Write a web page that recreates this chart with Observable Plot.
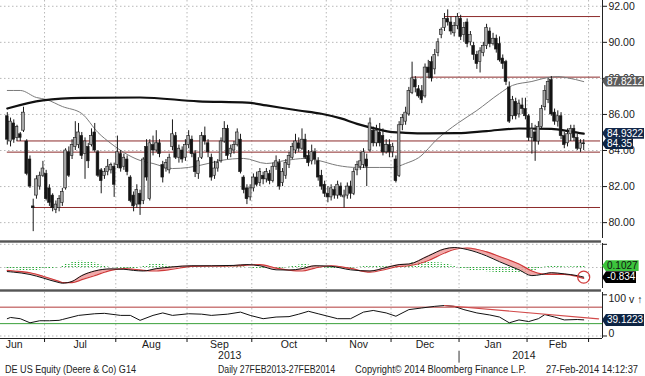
<!DOCTYPE html>
<html><head><meta charset="utf-8">
<script src="https://cdn.jsdelivr.net/npm/d3@7"></script>
<script src="https://cdn.jsdelivr.net/npm/@observablehq/plot@0.6"></script>
<style>
body{margin:0;background:#fff;font-family:"Liberation Sans",Arial,sans-serif;}
#wrap{position:relative;width:645px;height:376px;overflow:hidden;background:#fff}
.bar{position:absolute;left:0;width:601px;height:3px;background:linear-gradient(#a0a0a0,#555,#a0a0a0)}
.tag{position:absolute;left:602px;height:11px;line-height:11px;font-size:10px;padding-left:5px;padding-right:1px;white-space:nowrap;clip-path:polygon(0 50%,4px 0,100% 0,100% 100%,4px 100%)}
.foot{position:absolute;top:364px;font-size:10px;color:#222;white-space:nowrap;transform-origin:0 0}
</style></head>
<body><div id="wrap"></div>
<script>
// ---- calendar (trading-day index) ----
const months = ["Jun","Jul","Aug","Sep","Oct","Nov","Dec","Jan","Feb"];
const monthStart = [0,12,34,56,76,99,119,140,161,180];
const years = ["2013","2014"];
const yearStart = [0,140,180];

// ---- daily candles [open, high, low, close] ----
const jun = [[85.9,86.1,84.3,84.6],[84.5,85.8,84.2,85.6],[85.5,85.7,84.4,84.6],[84.7,85.4,84.5,85.3],[84.9,85.0,84.5,84.7],[85.1,86.4,85.0,86.1],[84.5,84.6,82.6,82.7],[83.5,83.7,81.9,82.0],[80.9,81.3,79.5,80.8],[81.5,82.6,81.3,82.4],[82.0,82.8,81.8,82.6],[82.6,83.4,82.5,83.0]];
const jul = [[82.7,82.9,81.2,81.3],[81.9,82.1,80.9,81.1],[81.5,81.6,80.6,80.8],[80.7,81.2,80.5,81.0],[80.8,81.5,80.6,81.3],[81.1,81.9,80.9,81.7],[81.9,84.1,81.8,84.0],[83.9,84.2,82.5,82.6],[83.7,84.6,83.5,84.3],[84.2,85.6,84.0,84.7],[84.3,85.5,84.1,85.0],[84.8,85.0,83.5,83.7],[83.8,84.7,82.4,84.5],[84.2,84.4,83.0,83.4],[84.3,85.2,84.2,84.8],[85.0,85.5,83.9,84.0],[83.9,84.0,82.5,82.6],[82.9,83.0,81.6,82.3],[82.6,83.0,82.4,82.8],[82.8,83.5,82.6,83.1],[82.9,83.3,82.7,83.2],[83.1,83.3,81.4,82.1]];
const aug = [[83.2,84.8,83.0,83.9],[83.8,84.0,82.8,83.0],[83.1,83.8,82.9,83.6],[83.5,83.7,82.6,82.8],[82.5,82.6,81.1,81.2],[81.5,81.7,80.6,80.9],[81.0,82.1,80.8,81.8],[81.6,81.8,80.4,81.0],[81.2,83.6,81.0,83.5],[84.2,84.6,82.3,82.5],[81.3,84.6,81.2,84.4],[84.3,84.8,83.7,84.0],[84.0,85.1,83.9,84.4],[84.4,84.6,83.6,83.8],[83.2,83.4,82.2,82.5],[83.0,83.5,82.8,83.3],[82.9,83.8,82.7,83.6],[84.2,85.7,84.0,84.9],[84.8,85.0,83.5,83.6],[83.6,84.3,83.3,84.1],[84.0,84.2,83.3,83.5],[83.6,84.6,83.4,84.3]];
const sep = [[84.3,85.1,84.1,84.8],[84.6,84.8,83.6,83.8],[83.8,84.0,82.5,82.8],[82.7,83.6,82.4,83.4],[83.6,85.0,83.5,84.8],[84.8,85.3,84.3,84.5],[84.4,84.6,83.6,83.9],[83.6,83.8,82.3,82.5],[82.6,83.4,82.4,83.0],[83.0,83.5,82.8,83.3],[83.4,84.7,83.3,84.5],[84.5,85.6,84.4,85.2],[85.2,85.4,83.5,83.7],[83.8,84.3,83.6,84.1],[84.0,84.5,83.8,84.3],[84.3,85.2,84.2,85.0],[84.6,84.9,82.7,82.8],[82.5,82.6,81.6,81.8],[81.9,82.1,81.0,81.3],[81.4,82.1,81.2,81.9]];
const oct = [[81.9,82.7,81.7,82.5],[82.5,82.8,82.0,82.1],[82.2,83.0,82.0,82.8],[82.6,82.8,82.1,82.4],[82.4,83.0,82.2,82.8],[82.7,82.9,82.1,82.3],[82.3,83.3,82.2,83.1],[83.1,83.7,82.9,83.4],[83.3,83.5,81.8,82.0],[82.2,83.0,82.0,82.8],[82.6,83.5,82.4,83.3],[83.2,83.9,83.0,83.7],[83.6,84.4,83.5,84.2],[84.0,84.9,83.8,84.5],[84.4,84.7,83.9,84.1],[84.1,85.2,84.0,84.6],[84.6,84.9,83.5,83.6],[83.7,84.0,83.1,83.3],[83.4,84.3,83.2,83.9],[83.9,84.1,83.2,83.5],[83.4,83.6,82.3,82.5],[82.6,82.9,81.8,82.0],[82.1,82.3,81.4,81.6]];
const nov = [[81.6,82.0,81.1,81.4],[81.4,82.1,81.2,81.9],[81.8,82.0,81.3,81.5],[81.5,82.3,81.3,82.1],[82.0,82.2,81.4,81.5],[81.4,81.8,80.8,81.5],[81.5,82.2,81.3,82.0],[82.0,82.3,81.3,81.6],[81.6,83.0,81.5,82.8],[82.9,83.4,82.6,83.2],[83.1,83.9,82.9,83.4],[83.2,84.1,83.0,83.9],[83.5,83.8,82.0,83.1],[84.0,85.8,83.9,85.5],[85.1,85.3,84.2,84.4],[84.4,85.4,84.2,85.1],[85.0,85.5,84.2,84.4],[84.8,85.2,83.7,83.9],[83.9,84.6,83.8,84.3],[84.3,84.6,83.6,83.9]];
const dec = [[83.9,84.4,83.6,84.2],[83.5,83.7,82.2,82.3],[82.6,85.6,82.5,85.4],[85.4,86.0,85.1,85.8],[85.6,86.4,85.4,86.1],[86.0,87.5,85.9,87.3],[87.2,88.9,87.1,88.0],[87.9,88.1,87.2,87.5],[87.4,87.6,86.9,87.0],[87.3,87.6,86.6,86.8],[87.0,88.8,86.9,88.6],[88.6,89.0,88.0,88.3],[88.9,89.2,87.8,88.0],[88.5,89.6,88.2,89.3],[89.4,90.2,89.2,90.0],[90.4,90.8,90.2,90.7],[90.8,91.6,90.6,91.3],[91.3,91.8,90.9,91.1],[91.1,91.4,90.4,90.6],[90.5,91.1,90.3,90.9],[90.9,91.6,90.7,91.4]];
const jan = [[91.3,91.5,90.1,90.3],[90.4,91.1,90.0,90.8],[91.1,91.3,89.7,89.9],[90.0,90.6,89.8,90.4],[89.8,90.0,89.0,89.3],[89.3,89.5,88.5,88.8],[88.9,89.7,88.3,89.5],[89.4,90.0,89.2,89.8],[89.8,91.0,89.6,90.8],[90.6,90.8,89.7,89.9],[89.9,90.5,89.8,90.2],[90.2,90.4,89.4,89.6],[89.9,90.3,88.9,89.0],[89.1,89.3,88.5,88.8],[88.9,89.0,87.6,87.8],[87.5,87.8,85.5,85.6],[85.9,87.0,85.7,86.8],[86.7,86.9,85.7,85.9],[86.0,86.8,85.8,86.6],[86.5,86.9,86.0,86.3],[86.3,86.9,85.7,85.9]];
const feb = [[85.9,86.0,84.5,84.7],[84.7,85.5,83.8,85.2],[85.0,85.4,83.4,84.5],[84.5,85.6,84.3,85.3],[85.3,86.5,85.2,86.3],[86.4,87.6,86.2,87.3],[86.8,88.0,86.6,87.8],[87.9,88.1,85.9,86.0],[86.1,86.3,85.4,85.6],[85.6,86.2,85.3,85.9],[85.9,86.1,84.6,84.8],[84.8,85.0,84.1,84.3],[84.4,85.2,84.2,84.9],[84.9,85.4,84.5,85.2],[85.2,85.4,84.5,84.7],[84.7,84.9,84.0,84.1],[84.1,84.6,83.9,84.4],[84.4,84.6,84.0,84.35]];

// ---- moving averages [trading-day index, value] ----
const ma50 = [[0,87.33],[4,87.33],[9,86.94],[12,86.83],[17,86.44],[23,86.05],[28,85.0],[32,84.39],[36,83.89],[41,83.45],[45,83.28],[51,83.0],[56,83.06],[62,83.28],[66,83.45],[73,83.56],[80,83.28],[86,83.45],[92,83.56],[96,83.45],[102,83.17],[108,83.06],[115,83.06],[119,83.06],[123,83.28],[127,83.6],[133,84.67],[139,85.5],[145,86.22],[152,87.16],[156,87.61],[162,87.83],[167,88.05],[170,88.1],[173,88.03],[178,87.8212]];
const ma200 = [[0,86.33],[11,86.78],[23,86.92],[41,86.94],[59,86.73],[74,86.66],[80,86.5],[90,86.22],[97,86.04],[103,85.78],[108,85.48],[114,85.2],[119,85.02],[123,84.98],[130,84.95],[139,84.96],[148,85.08],[158,85.22],[168,85.2],[174,85.05],[178,84.9322]];

// ---- horizontal levels (price, first candle index) ----
const levels = [91.43, 88.07, 84.53, 83.91, 80.84];
const levelFrom = [135, 125, 3, 0, 8];
const priceTicks = [80,82,84,86,88,90,92];

// ---- MACD ----
const macdIdx = [0,2,7,11,16,17,20,23,27,32,36,39,42,46,51,57,63,70,74,78,83,87,91,95,100,106,112,117,121,124,130,135,138,142,148,152,158,162,165,168,172,176,178];
const macd = [-0.35,-0.4,-0.6,-0.9,-1.3,-1.35,-1.2,-0.7,-0.3,-0.12,-0.15,-0.25,-0.3,-0.1,0.05,0.15,0.15,0.18,0.25,0.15,-0.2,-0.22,-0.1,0.15,0.1,-0.2,-0.3,0.0,0.25,0.3,1.0,1.6,1.72,1.55,1.0,0.5,-0.2,-0.7,-0.6,-0.45,-0.55,-0.7,-0.834];
const signal = [-0.25,-0.3,-0.45,-0.75,-1.2,-1.3,-1.3,-1.05,-0.7,-0.25,-0.1,-0.15,-0.25,-0.3,-0.15,0.1,0.12,0.13,0.2,0.25,-0.05,-0.22,-0.3,-0.05,0.15,-0.08,-0.4,-0.15,0.1,0.15,0.6,1.25,1.55,1.68,1.35,0.95,0.3,-0.3,-0.55,-0.6,-0.6,-0.78,-0.937];
const histJun = [-0.15,-0.18,-0.2,-0.22,-0.25,-0.25,-0.28,-0.3,-0.3,-0.28,-0.22,-0.15];
const histJul = [-0.12,-0.1,-0.08,-0.05,0.0,0.1,0.25,0.35,0.45,0.5,0.55,0.55,0.5,0.5,0.45,0.38,0.3,0.2,0.12,0.05,0.0,-0.03];
const histAug = [-0.05,-0.06,-0.08,-0.1,-0.12,-0.1,-0.06,0.02,0.1,0.18,0.25,0.3,0.32,0.3,0.25,0.2,0.15,0.1,0.06,0.03,0.02,0.0];
const histSep = [0.02,0.03,0.02,0.0,0.03,0.05,0.04,0.02,0.0,0.02,0.04,0.06,0.05,0.04,0.05,0.07,0.06,0.04,0.0,-0.04];
const histOct = [-0.08,-0.1,-0.12,-0.14,-0.15,-0.15,-0.13,-0.12,-0.1,-0.06,-0.02,0.04,0.1,0.16,0.22,0.25,0.25,0.22,0.18,0.12,0.06,0.0,-0.05];
const histNov = [-0.1,-0.13,-0.15,-0.16,-0.16,-0.15,-0.12,-0.08,-0.04,0.0,0.04,0.08,0.1,0.12,0.14,0.16,0.16,0.15,0.14,0.13];
const histDec = [0.12,0.12,0.16,0.22,0.28,0.34,0.4,0.44,0.46,0.47,0.46,0.45,0.44,0.42,0.4,0.38,0.34,0.28,0.2,0.1,0.0];
const histJan = [-0.08,-0.15,-0.2,-0.25,-0.28,-0.3,-0.32,-0.34,-0.36,-0.38,-0.4,-0.42,-0.44,-0.46,-0.48,-0.5,-0.5,-0.5,-0.48,-0.45,-0.42];
const histFeb = [-0.38,-0.32,-0.25,-0.1,-0.05,0.05,0.12,0.15,0.15,0.12,0.08,0.05,0.05,0.06,0.07,0.08,0.09,0.1];

// ---- RSI ----
const rsiIdx = [0,1,4,7,10,13,16,17,22,27,30,35,38,41,45,48,51,56,60,63,68,72,75,79,83,87,90,93,96,102,106,110,113,117,120,124,128,132,135,138,141,145,149,152,155,158,161,164,166,169,172,176,178];
const rsiVal = [42,45,42,32,37,37,38,40,50,54,55,50,50,38,50,56,50,54,53,50,53,58,50,42,46,47,53,60,54,42,42,58,62,56,48,64,68,72,74,72,64,56,51,46,32,39,35,42,52,46,39,40,39.1223];
const rsiTrend = [[135,74],[182.6,41.7]];
const rsiTicks = [0,100];

// ---- text ----
const footer = [
  ["DE US Equity (Deere & Co) G14", 5, 131],
  ["Daily 27FEB2013-27FEB2014", 218, 117],
  ["Copyright\u00A9 2014 Bloomberg Finance L.P.", 355, 171],
  ["27-Feb-2014 14:12:37", 546, 92]
];

// ---- tables ----
const candles = [jun,jul,aug,sep,oct,nov,dec,jan,feb].flat().map(([o,h,l,c],i)=>({i,o,h,l,c}));
const hist = [histJun,histJul,histAug,histSep,histOct,histNov,histDec,histJan,histFeb].flat().map((v,i)=>({i,v}));
const macdRows = macdIdx.map((i,k)=>({i, m: macd[k], s: signal[k]}));
const rsiRows = rsiIdx.map((i,k)=>({i, v: rsiVal[k]}));
const bounds = monthStart.slice(1).map(s => s - 0.5);
const monthRows = months.map((name,k)=>({name, x: k===0 ? -0.5 : (monthStart[k] + monthStart[k+1]) / 2 - 0.5}));
const xDomain = [-2.1, 183.8];
const yearRows = years.map((name,k)=>({name, x: ((k===0 ? xDomain[0] : yearStart[k]-0.5) + yearStart[k+1]-0.5)/2}));
const levelRows = levels.map((v,k)=>({v, from: levelFrom[k]}));
const toRows = a => a.map(([i,v])=>({i,v}));

const dotted = {stroke:"#b8b8b8", strokeDasharray:"1.5,2.5"};
const common = {
  width: 645, marginLeft: 0, marginRight: 43, marginTop: 0,
  x: {domain: xDomain, axis: null},
  style: {fontFamily: '"Liberation Sans", Arial, sans-serif', fontSize: "10.5px", color: "#1a1a1a", background: "transparent", overflow: "visible"}
};

const wrap = document.getElementById("wrap");
function put(el, top){ el.style.position = "absolute"; el.style.left = "0px"; el.style.top = top + "px"; wrap.appendChild(el); }

// main price panel
const main = Plot.plot({...common, height: 238, marginBottom: 0,
  y: {domain: [79.12, 92.32], axis: null},
  marks: [
    Plot.ruleY(priceTicks, dotted),
    Plot.ruleX(bounds, dotted),
    Plot.ruleY(levelRows, {y: "v", x1: "from", x2: 183.2, stroke: "#8c2b2b", strokeWidth: 1}),
    Plot.line(toRows(ma50), {x: "i", y: "v", stroke: "#7a7a7a", strokeWidth: 1, curve: "monotone-x"}),
    Plot.line(toRows(ma200), {x: "i", y: "v", stroke: "#111", strokeWidth: 2.2, curve: "monotone-x"}),
    Plot.ruleX(candles, {x: "i", y1: "l", y2: "h", stroke: "#1a1a1a", strokeWidth: 1}),
    Plot.rect(candles, {x1: d => d.i - 0.42, x2: d => d.i + 0.42, y1: "o", y2: "c",
      fill: d => d.c >= d.o ? "#a8a8a8" : "#141414", stroke: "#1a1a1a", strokeWidth: 0.6}),
    Plot.ruleX([xDomain[1]], {stroke: "#222"}),
    Plot.axisY(priceTicks, {anchor: "right", tickSize: 4, tickPadding: 2, tickFormat: d => d.toFixed(2)})
  ]
});
put(main, 0);

// MACD panel
const macdPlot = Plot.plot({...common, height: 45, marginBottom: 0,
  y: {domain: [-1.81, 2.07], axis: null},
  marks: [
    Plot.ruleY([2, 0], dotted),
    Plot.ruleX(bounds, dotted),
    Plot.ruleX(hist, {x: "i", y1: 0, y2: "v", stroke: "#22a832", strokeWidth: 1.3, strokeDasharray: "1,1"}),
    Plot.areaY(macdRows, {x: "i", y1: "m", y2: "s", fill: "#ee9a9a", fillOpacity: 0.85, curve: "monotone-x"}),
    Plot.line(macdRows, {x: "i", y: "s", stroke: "#cf3a3a", strokeWidth: 1.2, curve: "monotone-x"}),
    Plot.line(macdRows, {x: "i", y: "m", stroke: "#111", strokeWidth: 1, curve: "monotone-x"}),
    Plot.dot(macdRows.slice(-1), {x: "i", y: "m", r: 6, stroke: "#cf3a3a", strokeWidth: 1.2, fill: "none"}),
    Plot.ruleX([xDomain[1]], {stroke: "#222"}),
    Plot.axisY([2], {anchor: "right", tickSize: 4, tickFormat: () => ""})
  ]
});
put(macdPlot, 243);

// RSI panel + time axis
const rsiPlot = Plot.plot({...common, height: 72, marginBottom: 26,
  y: {domain: [-6.1, 105.6], axis: null},
  marks: [
    Plot.ruleX(bounds, dotted),
    Plot.ruleY([0], dotted),
    Plot.ruleY([70], {stroke: "#b23a3a"}),
    Plot.ruleY([30], {stroke: "#3a9f3a"}),
    Plot.line(rsiRows, {x: "i", y: "v", stroke: "#111", strokeWidth: 1}),
    Plot.line(toRows(rsiTrend), {x: "i", y: "v", stroke: "#d24a4a", strokeWidth: 1.2}),
    Plot.ruleY([-6.1], {stroke: "#222"}),
    Plot.ruleX([xDomain[1]], {stroke: "#222"}),
    Plot.axisY(rsiTicks, {anchor: "right", tickSize: 4, tickFormat: () => ""}),
    Plot.text(rsiTicks.slice(1), {x: xDomain[1], y: d => d, text: d => String(d), dx: 6, dy: 4, textAnchor: "start"}),
    Plot.text(rsiTicks.slice(0, 1), {x: xDomain[1], y: d => d, text: d => String(d), dx: 6, dy: -2, textAnchor: "start"}),
    Plot.axisX(bounds, {anchor: "bottom", tickSize: 4, tickFormat: () => ""}),
    Plot.text(monthRows.slice(0, 1), {x: "x", text: "name", frameAnchor: "bottom", dy: 9, textAnchor: "start"}),
    Plot.text(monthRows.slice(1), {x: "x", text: "name", frameAnchor: "bottom", dy: 9}),
    Plot.ruleX([yearStart[1] - 0.5], {y1: -37, y2: -66, stroke: "#333"}),
    Plot.text(yearRows, {x: "x", text: "name", frameAnchor: "bottom", dy: 20})
  ]
});
put(rsiPlot, 292);

// separator bars
[239.5, 288.5].forEach(t => { const b = document.createElement("div"); b.className = "bar"; b.style.top = t + "px"; wrap.appendChild(b); });

// value tags positioned with each panel's y scale
function yOf(plot, v){
  const s = plot.scale("y");
  if (s && typeof s.apply === "function") return s.apply(v);
  return d3.scaleLinear(s.domain, s.range)(v);
}
function tag(text, yc, bg, fg, extra){
  const t = document.createElement("div");
  t.className = "tag"; t.textContent = text;
  t.style.top = (yc - 5.5) + "px"; t.style.background = bg; t.style.color = fg;
  if (extra) Object.assign(t.style, extra);
  wrap.appendChild(t);
}
tag(ma50[ma50.length-1][1].toFixed(4), yOf(main, ma50[ma50.length-1][1]), "#5c5c5c", "#fff");
tag(ma200[ma200.length-1][1].toFixed(4), yOf(main, ma200[ma200.length-1][1]), "#13284a", "#fff");
tag(String(candles[candles.length-1].c), yOf(main, candles[candles.length-1].c), "#0d2443", "#fff");
tag("0.1027", 243 + yOf(macdPlot, 0.1027), "#3cc43c", "#111");
tag(String(macd[macd.length-1]), 243 + yOf(macdPlot, macd[macd.length-1]), "#000", "#fff", {height: "12px", lineHeight: "12px"});
tag(String(rsiVal[rsiVal.length-1]), 292 + yOf(rsiPlot, rsiVal[rsiVal.length-1]), "#0d2443", "#fff", {height: "12px", lineHeight: "12px"});

// footer
footer.forEach(([txt, left, w]) => {
  const f = document.createElement("div");
  f.className = "foot"; f.textContent = txt; f.style.left = left + "px";
  wrap.appendChild(f);
  const k = w / f.getBoundingClientRect().width;
  f.style.transform = `scaleX(${k})`;
});
</script></body></html>
